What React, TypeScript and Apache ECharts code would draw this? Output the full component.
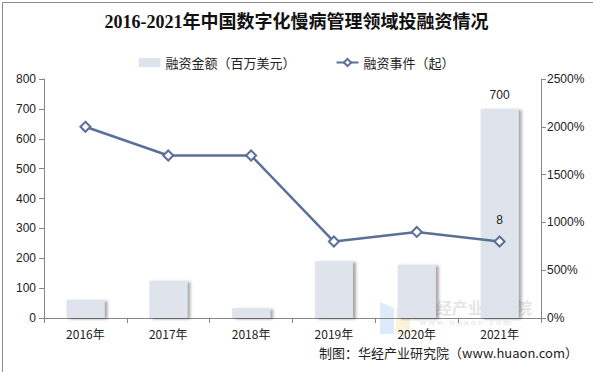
import React, { useEffect, useRef } from "react";
import * as echarts from "echarts";

const categories = ["2016年", "2017年", "2018年", "2019年", "2020年", "2021年"];
const amountValues = [60, 125, 33, 190, 178, 700];
const eventValues = [20, 17, 17, 8, 9, 8];
const leftTicks = { min: 0, max: 800, interval: 100 };
const rightTicks = { min: 0, max: 25, interval: 5 };

export default function App() {
  const ref = useRef<HTMLDivElement>(null);
  useEffect(() => {
    document.body.style.margin = "0";
    const chart = echarts.init(ref.current!, null, { renderer: "svg" });
    const txt = "#222";
    const axisLine = { show: true, lineStyle: { color: "#868686", width: 1 } };
    chart.setOption({
      animation: false,
      backgroundColor: "#fff",
      title: {
        text: "2016-2021年中国数字化慢病管理领域投融资情况",
        left: "center",
        top: 8,
        textStyle: {
          fontFamily: "'Liberation Serif', 'Noto Sans CJK SC', serif",
          fontWeight: "bold",
          fontSize: 18,
          color: "#111",
        },
      },
      legend: {
        top: 51,
        left: "center",
        itemGap: 40,
        itemWidth: 22,
        itemHeight: 9,
        textStyle: { fontSize: 13, color: "#222", fontFamily: "'Noto Sans CJK SC', sans-serif" },
        data: [
          { name: "融资金额（百万美元）", icon: "rect" },
          { name: "融资事件（起）" },
        ],
      },
      grid: { left: 44, right: 52, top: 79, bottom: 54 },
      xAxis: {
        type: "category",
        data: categories,
        boundaryGap: true,
        axisLine,
        axisTick: { show: true, alignWithLabel: false, length: 5, lineStyle: { color: "#868686" } },
        axisLabel: { color: txt, fontSize: 12, margin: 9, fontFamily: "'Noto Sans CJK SC', sans-serif" },
      },
      yAxis: [
        {
          type: "value",
          min: leftTicks.min,
          max: leftTicks.max,
          interval: leftTicks.interval,
          axisLine,
          axisTick: { show: true, length: 5, lineStyle: { color: "#868686" } },
          splitLine: { show: false },
          axisLabel: { color: txt, fontSize: 12, margin: 8, fontFamily: "Arial, 'Liberation Sans', sans-serif" },
        },
        {
          type: "value",
          min: rightTicks.min,
          max: rightTicks.max,
          interval: rightTicks.interval,
          position: "right",
          axisLine,
          axisTick: { show: true, length: 5, lineStyle: { color: "#868686" } },
          splitLine: { show: false },
          axisLabel: {
            color: txt,
            fontSize: 12,
            margin: 6,
            fontFamily: "Arial, 'Liberation Sans', sans-serif",
            formatter: (v: number) => v * 100 + "%",
          },
        },
      ],
      series: [
        {
          name: "融资金额（百万美元）",
          type: "bar",
          yAxisIndex: 0,
          barWidth: 38,
          data: amountValues.map((v, i) => ({
            value: v,
            label: { show: i === amountValues.length - 1 },
          })),
          itemStyle: {
            color: "#dfe3ec",
            shadowColor: "rgba(0,0,0,0.35)",
            shadowBlur: 3,
            shadowOffsetX: 3,
            shadowOffsetY: 1,
          },
          label: {
            position: "top",
            distance: 8,
            color: txt,
            fontSize: 12,
            fontFamily: "Arial, 'Liberation Sans', sans-serif",
          },
        },
        {
          name: "融资事件（起）",
          type: "line",
          yAxisIndex: 1,
          data: eventValues.map((v, i) => ({
            value: v,
            label: { show: i === eventValues.length - 1 },
          })),
          symbol: "emptyDiamond",
          symbolSize: 10,
          lineStyle: { color: "#5b6f99", width: 2.5 },
          itemStyle: { color: "#5b6f99", borderColor: "#5b6f99", borderWidth: 1.2 },
          label: {
            position: "top",
            distance: 10,
            color: txt,
            fontSize: 12,
            fontFamily: "Arial, 'Liberation Sans', sans-serif",
          },
          z: 5,
        },
      ],
      graphic: [
        {
          type: "polygon",
          z: 0,
          shape: { points: [[380, 302], [394, 308], [394, 334], [380, 334]] },
          style: { fill: "rgba(120,170,230,0.25)" },
          silent: true,
        },
        {
          type: "polygon",
          z: 0,
          shape: { points: [[396, 308], [410, 302], [410, 334], [396, 334]] },
          style: { fill: "rgba(240,210,120,0.25)" },
          silent: true,
        },
        {
          type: "text",
          left: 420,
          top: 299,
          z: 0,
          style: {
            text: "华经产业研究院",
            fill: "rgba(180,180,180,0.35)",
            font: "bold 16px 'Noto Sans CJK SC', sans-serif",
          },
        },
        {
          type: "text",
          left: 420,
          top: 318,
          z: 0,
          style: {
            text: "w w w . h u a o n . c o m",
            fill: "rgba(190,190,190,0.35)",
            font: "bold 8px 'Liberation Sans', sans-serif",
          },
        },
        {
          type: "text",
          right: 15,
          top: 346,
          style: {
            text: "制图：华经产业研究院（www.huaon.com）",
            fill: "#222",
            font: "13px 'Noto Sans CJK SC', sans-serif",
          },
        },
        {
          type: "rect",
          left: 0,
          top: 0,
          shape: { width: 592, height: 371 },
          style: { fill: "none", stroke: "#8c8c8c", lineWidth: 1 },
          silent: true,
        },
      ],
    });
    return () => chart.dispose();
  }, []);
  return <div ref={ref} style={{ width: 593, height: 372 }} />;
}
